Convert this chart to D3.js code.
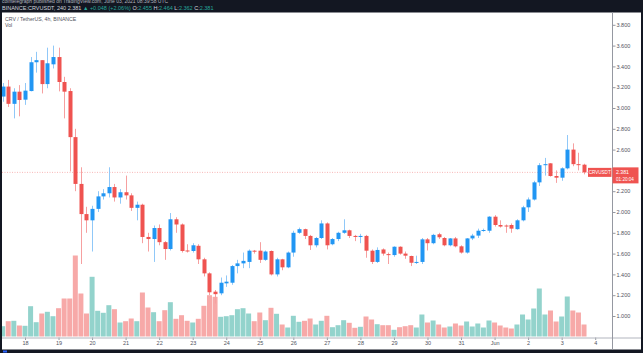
<!DOCTYPE html>
<html>
<head>
<meta charset="utf-8">
<script src="https://cdn.jsdelivr.net/npm/d3@7"></script>
<style>
html, body { margin: 0; padding: 0; background: #131722; }
svg { display: block; font-family: "Liberation Sans", Arial, sans-serif; }
</style>
</head>
<body>
<svg id="chart"></svg>
<script>
// 4h candles, CRV / USDT, Binance. first candle = 17 May 2021 08:00 UTC
const first_candle = Date.UTC(2021, 4, 17, 8);
const candle_hours = 4;

const open_values = [
    3.11, 3.206, 3.04, 3.157, 3.08, 3.163, 3.44, 3.46, 3.23, 3.42, 3.49, 3.25, 3.163,
    2.72, 2.27, 1.98, 1.92, 2.03, 2.15, 2.18, 2.24, 2.14, 2.19, 2.16, 2.04, 2.07, 1.76, 1.74,
    1.846, 1.71, 1.644, 1.93, 1.88, 1.63, 1.625, 1.675, 1.545, 1.41, 1.234, 1.218, 1.314, 1.32,
    1.48, 1.506, 1.52, 1.628, 1.628, 1.54, 1.625, 1.40, 1.545, 1.468, 1.61, 1.80, 1.835, 1.77,
    1.68, 1.75, 1.89, 1.69, 1.74, 1.80, 1.824, 1.77, 1.76, 1.77, 1.628, 1.52, 1.64, 1.595,
    1.586, 1.666, 1.60, 1.577, 1.512, 1.52, 1.737, 1.70, 1.786, 1.75, 1.68, 1.746, 1.67, 1.61,
    1.746, 1.773, 1.82, 1.82, 1.955, 1.875, 1.87, 1.875, 1.835, 1.92, 2.045, 2.12, 2.285, 2.45,
    2.468, 2.346, 2.33, 2.42, 2.60, 2.46, 2.455
];
const high_values = [
    3.24, 3.27, 3.19, 3.22, 3.24, 3.49, 3.54, 3.46, 3.58, 3.60, 3.58, 3.30, 3.19,
    2.80, 2.43, 2.05, 2.06, 2.20, 2.22, 2.43, 2.27, 2.22, 2.35, 2.18, 2.10, 2.08, 1.80, 1.87,
    1.88, 1.72, 1.99, 1.95, 1.89, 1.69, 1.70, 1.69, 1.56, 1.42, 1.25, 1.37, 1.39, 1.49,
    1.54, 1.61, 1.64, 1.635, 1.71, 1.63, 1.63, 1.56, 1.55, 1.62, 1.82, 1.85, 1.84, 1.78,
    1.76, 1.92, 1.90, 1.75, 1.81, 1.93, 1.83, 1.78, 1.79, 1.78, 1.64, 1.66, 1.65, 1.61,
    1.67, 1.67, 1.62, 1.58, 1.58, 1.75, 1.75, 1.79, 1.80, 1.76, 1.75, 1.76, 1.68, 1.75,
    1.79, 1.84, 1.84, 1.96, 1.97, 1.92, 1.88, 1.89, 1.93, 2.06, 2.14, 2.30, 2.47, 2.52,
    2.47, 2.40, 2.43, 2.74, 2.66, 2.57, 2.464
];
const low_values = [
    3.06, 3.01, 2.90, 2.92, 3.03, 3.16, 3.34, 3.14, 3.19, 3.38, 3.16, 2.90, 2.39,
    2.20, 1.50, 1.80, 1.62, 2.00, 2.12, 2.14, 2.10, 2.08, 2.12, 2.01, 1.92, 1.70, 1.62, 1.52,
    1.68, 1.54, 1.63, 1.80, 1.61, 1.61, 1.61, 1.50, 1.38, 1.20, 1.12, 1.20, 1.28, 1.30,
    1.41, 1.46, 1.46, 1.60, 1.51, 1.53, 1.39, 1.38, 1.44, 1.46, 1.57, 1.79, 1.74, 1.635,
    1.66, 1.74, 1.64, 1.68, 1.72, 1.79, 1.75, 1.72, 1.70, 1.56, 1.50, 1.51, 1.58, 1.50,
    1.57, 1.59, 1.55, 1.48, 1.50, 1.50, 1.63, 1.69, 1.74, 1.67, 1.67, 1.66, 1.60, 1.60,
    1.73, 1.75, 1.81, 1.80, 1.86, 1.85, 1.80, 1.80, 1.83, 1.91, 2.00, 2.11, 2.25, 2.35,
    2.34, 2.28, 2.30, 2.41, 2.44, 2.40, 2.362
];
const close_values = [
    3.206, 3.04, 3.157, 3.077, 3.167, 3.44, 3.46, 3.23, 3.43, 3.49, 3.25, 3.157, 2.72,
    2.27, 1.98, 1.92, 2.03, 2.15, 2.18, 2.24, 2.14, 2.19, 2.16, 2.04, 2.07, 1.76, 1.74, 1.846,
    1.71, 1.644, 1.93, 1.88, 1.625, 1.625, 1.68, 1.545, 1.41, 1.228, 1.21, 1.32, 1.33, 1.48,
    1.506, 1.53, 1.628, 1.62, 1.54, 1.62, 1.40, 1.545, 1.468, 1.61, 1.80, 1.835, 1.77, 1.68,
    1.75, 1.89, 1.68, 1.74, 1.80, 1.824, 1.77, 1.76, 1.77, 1.628, 1.52, 1.635, 1.60, 1.59,
    1.666, 1.60, 1.58, 1.512, 1.52, 1.737, 1.70, 1.78, 1.757, 1.68, 1.746, 1.67, 1.61, 1.746,
    1.773, 1.82, 1.827, 1.955, 1.875, 1.86, 1.865, 1.84, 1.92, 2.045, 2.12, 2.285, 2.45, 2.46,
    2.346, 2.33, 2.42, 2.60, 2.46, 2.455, 2.381
];
// volume, millions CRV
const volume_values = [
    1.03, 1.53, 1.57, 1.10, 1.07, 3.03, 1.43, 2.30, 2.47, 2.03, 2.83, 3.80, 3.80,
    8.10, 4.30, 2.30, 5.97, 2.57, 2.37, 3.13, 2.73, 1.40, 1.53, 1.80, 1.53, 4.40, 2.90, 2.43,
    1.53, 2.63, 3.43, 1.77, 2.13, 1.57, 1.40, 1.77, 3.07, 4.13, 3.97, 1.97, 2.03, 2.13,
    2.73, 2.83, 2.30, 1.53, 2.40, 1.63, 2.87, 2.27, 1.20, 0.90, 2.07, 1.47, 1.57, 1.80,
    1.20, 1.57, 2.07, 0.93, 1.13, 1.63, 1.37, 0.87, 0.97, 2.00, 1.70, 1.23, 1.13, 1.13,
    0.67, 0.93, 1.03, 1.13, 0.90, 2.20, 1.40, 1.60, 1.20, 0.90, 1.00, 1.30, 1.10, 1.50,
    1.00, 1.30, 0.90, 1.60, 1.40, 1.10, 0.90, 0.80, 1.20, 2.20, 1.70, 2.80, 4.80, 2.20,
    2.60, 1.50, 2.00, 4.00, 2.60, 2.40, 1.20
];

const price_ticks = [1.0, 1.2, 1.4, 1.6, 1.8, 2.0, 2.2, 2.4, 2.6, 2.8, 3.0, 3.2, 3.4, 3.6, 3.8];
const day_ticks = ['2021-05-18', '2021-05-19', '2021-05-20', '2021-05-21', '2021-05-22', '2021-05-23',
    '2021-05-24', '2021-05-25', '2021-05-26', '2021-05-27', '2021-05-28', '2021-05-29', '2021-05-30',
    '2021-05-31', '2021-06-01', '2021-06-02', '2021-06-03', '2021-06-04'];
const day_labels = ['18', '19', '20', '21', '22', '23', '24', '25', '26', '27', '28', '29', '30',
    '31', 'Jun', '2', '3', '4'];

const last_price = 2.381;
const header_text = 'cointelegraph published on TradingView.com, June 03, 2021 08:39:58 UTC';


class CandleChart {

    constructor( config, data ) {
        this.config = {
            parent: config.parent,
            width: config.width || 643,
            height: config.height || 353,
            plot: config.plot || {left: 2, right: 612, top: 12.5, bottom: 337.5}
        };
        this.data = data;
        this.init();
    }

    init() {
        let self = this;
        const p = self.config.plot;

        self.svg = d3.select( self.config.parent )
            .attr('width', self.config.width)
            .attr('height', self.config.height);

        // time: 18 May 00:00 at x=25, 4 Jun 00:00 at x=595.2
        self.xscale = d3.scaleUtc()
            .domain([new Date(Date.UTC(2021, 4, 18)), new Date(Date.UTC(2021, 5, 4))])
            .range([25, 595.2]);

        self.yscale = d3.scaleLinear()
            .domain([1, 3.8])
            .range([316, 24.8]);

        self.vscale = d3.scaleLinear()
            .domain([0, 8.2])
            .range([p.bottom - 1, p.bottom - 83]);

        self.xaxis = d3.axisBottom( self.xscale )
            .tickValues( day_ticks.map(d => new Date(d + 'T00:00:00Z')) )
            .tickFormat( (d, i) => day_labels[i] )
            .tickSize(2.5)
            .tickSizeOuter(0);

        self.yaxis = d3.axisRight( self.yscale )
            .tickValues( price_ticks )
            .tickFormat( d3.format('.3f') )
            .tickSize(3)
            .tickSizeOuter(0);
    }

    render() {
        let self = this;
        const p = self.config.plot;
        const W = self.config.width, H = self.config.height;

        // dark frame + white pane
        self.svg.append('rect').attr('width', W).attr('height', H).attr('fill', '#131722');
        self.svg.append('rect')
            .attr('x', p.left).attr('y', p.top)
            .attr('width', W - 2 - p.left).attr('height', 349.5 - p.top)
            .attr('fill', '#ffffff');

        self.svg.append('clipPath').attr('id', 'pane')
            .append('rect')
            .attr('x', p.left).attr('y', p.top)
            .attr('width', p.right - p.left).attr('height', p.bottom - p.top);

        const pane = self.svg.append('g').attr('clip-path', 'url(#pane)');

        // volume
        const bw = 5.0;
        pane.append('g').selectAll('rect').data(self.data).join('rect')
            .attr('x', d => self.xscale(d.time) - bw / 2)
            .attr('y', d => self.vscale(d.volume))
            .attr('width', bw)
            .attr('height', d => self.vscale(0) - self.vscale(d.volume))
            .attr('fill', d => d.close >= d.open ? '#93d3cc' : '#f7a9a8');

        // last price line
        pane.append('line')
            .attr('x1', p.left).attr('x2', p.right)
            .attr('y1', self.yscale(last_price)).attr('y2', self.yscale(last_price))
            .attr('stroke', '#f6a5a4').attr('stroke-width', 0.8)
            .attr('stroke-dasharray', '1,1.5');

        // candles
        const cw = 4.0;
        const candles = pane.append('g').selectAll('g').data(self.data).join('g');
        candles.append('line')
            .attr('x1', d => Math.round(self.xscale(d.time)) + 0.5)
            .attr('x2', d => Math.round(self.xscale(d.time)) + 0.5)
            .attr('y1', d => self.yscale(d.high))
            .attr('y2', d => self.yscale(d.low))
            .attr('stroke', d => d.close >= d.open ? '#90c8f8' : '#f6a0a0')
            .attr('stroke-width', 1);
        candles.append('rect')
            .attr('x', d => Math.round(self.xscale(d.time)) + 0.5 - cw / 2)
            .attr('y', d => self.yscale(Math.max(d.open, d.close)))
            .attr('width', cw)
            .attr('height', d => Math.max(1, Math.abs(self.yscale(d.open) - self.yscale(d.close))))
            .attr('fill', d => d.close >= d.open ? '#2196f3' : '#ef5350');

        // axes
        const xg = self.svg.append('g')
            .attr('transform', `translate(0, ${p.bottom})`)
            .call( self.xaxis );
        xg.select('.domain').remove();
        xg.selectAll('line').attr('stroke', '#9598a1');
        xg.selectAll('text').attr('font-size', 5.5).attr('fill', '#50535e').attr('dy', '0.45em')
            .attr('font-family', '"Liberation Sans", Arial, sans-serif');
        self.svg.append('line')
            .attr('x1', p.left).attr('x2', W - 2)
            .attr('y1', p.bottom + 0.5).attr('y2', p.bottom + 0.5)
            .attr('stroke', '#b2b5be').attr('stroke-width', 1);

        const yg = self.svg.append('g')
            .attr('transform', `translate(${p.right + 0.5}, 0)`)
            .call( self.yaxis );
        yg.select('.domain').remove();
        yg.selectAll('line').attr('stroke', '#9598a1');
        yg.selectAll('text').attr('font-size', 5.5).attr('fill', '#50535e').attr('x', 4)
            .attr('font-family', '"Liberation Sans", Arial, sans-serif');
        self.svg.append('line')
            .attr('x1', p.right + 0.5).attr('x2', p.right + 0.5)
            .attr('y1', p.top).attr('y2', 349.5)
            .attr('stroke', '#9598a1').attr('stroke-width', 1);

        // last price labels
        const ly = self.yscale(last_price);
        self.svg.append('rect')
            .attr('x', 588).attr('y', ly - 4.5).attr('width', 23.5).attr('height', 9)
            .attr('fill', '#ef5350');
        self.svg.append('text')
            .attr('x', 599.7).attr('y', ly + 1.8).attr('text-anchor', 'middle')
            .attr('font-size', 4.6).attr('fill', '#ffffff').text('CRVUSDT');
        self.svg.append('rect')
            .attr('x', p.right + 0.5).attr('y', ly - 5).attr('width', 26).attr('height', 16)
            .attr('fill', '#ef5350');
        self.svg.append('text')
            .attr('x', p.right + 4).attr('y', ly + 1.2)
            .attr('font-size', 5.2).attr('fill', '#ffffff').text(last_price.toFixed(3));
        self.svg.append('text')
            .attr('x', p.right + 4).attr('y', ly + 9)
            .attr('font-size', 4.6).attr('fill', '#ffffff').text('01:20:04');

        // legend
        self.svg.append('text').attr('x', 5).attr('y', 20.5)
            .attr('font-size', 5.2).attr('fill', '#50535e').text('CRV / TetherUS, 4h, BINANCE');
        self.svg.append('text').attr('x', 5).attr('y', 26.5)
            .attr('font-size', 5.2).attr('fill', '#50535e').text('Vol');

        // header (first line is cut by the top edge, as in the screenshot)
        self.svg.append('text').attr('x', 2).attr('y', 2.6)
            .attr('font-size', 5).attr('fill', '#b2b5be').text(header_text);
        const last = self.data[self.data.length - 1];
        const hdr = self.svg.append('text').attr('x', 2).attr('y', 9.5)
            .attr('font-size', 5.5).attr('fill', '#d1d4dc');
        hdr.append('tspan').text('BINANCE:CRVUSDT, 240 ');
        hdr.append('tspan').attr('fill', '#d1d4dc').text(last.close.toFixed(3) + ' ');
        hdr.append('tspan').attr('fill', '#26a69a').text('\u25B2 +0.048 (+2.06%) ');
        ['O', 'H', 'L', 'C'].forEach((k, i) => {
            const v = [last.open, last.high, last.low, last.close][i];
            hdr.append('tspan').attr('fill', '#d1d4dc').text(k + ':');
            hdr.append('tspan').attr('fill', '#26a69a').text(v.toFixed(3) + ' ');
        });

        // logo mark bottom left
        self.svg.append('rect').attr('x', 3).attr('y', 350.5).attr('width', 4).attr('height', 2)
            .attr('fill', '#2962ff');
    }
}

const candle_data = open_values.map((o, i) => ({
    time: new Date(first_candle + i * candle_hours * 3600 * 1000),
    open: o,
    high: high_values[i],
    low: low_values[i],
    close: close_values[i],
    volume: volume_values[i]
}));

const chart = new CandleChart({ parent: '#chart' }, candle_data);
chart.render();
</script>
</body>
</html>
